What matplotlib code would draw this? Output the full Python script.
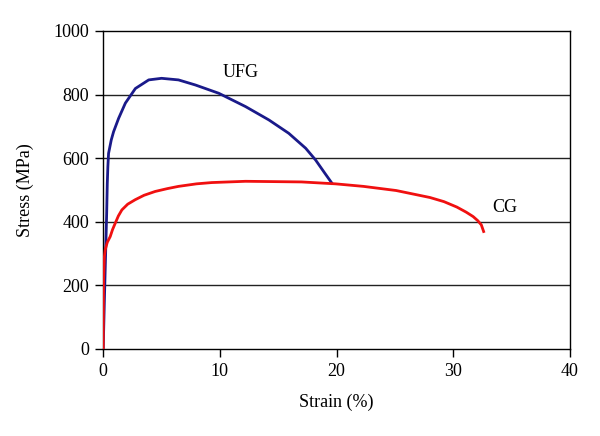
import numpy as np
import matplotlib.pyplot as plt

# Stress-strain data (strain in %, stress in MPa)
ufg_strain = [0, 0.1, 0.2, 0.3, 0.35, 0.4, 0.46, 0.69, 0.89, 1.32, 1.9, 2.76,
              3.9, 5.0, 6.45, 7.9, 9.9, 12.2, 14.2, 15.9, 17.35, 18.2, 19.0, 19.6]
ufg_stress = [0, 150, 290, 430, 520, 573, 615, 657, 683, 725, 773, 819,
              846, 851, 846, 830, 804, 762, 720, 678, 631, 594, 552, 521]

cg_strain = [0, 0.03, 0.1, 0.17, 0.35, 0.6, 0.8, 1.03, 1.3, 1.6, 2.1, 2.74,
             3.5, 4.45, 5.5, 6.45, 8.0, 9.3, 12.2, 17.0, 19.9, 22.3, 25.1,
             28.0, 29.2, 30.3, 31.1, 31.7, 32.1, 32.4, 32.6]
cg_stress = [0, 217, 290, 311, 335, 353, 375, 395, 418, 437, 455, 469,
             483, 495, 504, 511, 519, 523, 527, 525, 519, 511, 498,
             476, 463, 446, 430, 416, 403, 390, 369]

plt.rcParams['font.family'] = ['Liberation Serif', 'DejaVu Serif']

fig = plt.figure(figsize=(6, 4.36), dpi=100)
ax = fig.add_axes([0.172, 0.2, 0.778, 0.729])

# horizontal grid lines
for yv in [200, 400, 600, 800]:
    ax.axhline(yv, color='#222222', lw=1, zorder=1)

ax.plot(ufg_strain, ufg_stress, color='#1a1a8a', lw=2, zorder=3)
ax.plot(cg_strain, cg_stress, color='#f01010', lw=2, zorder=3)

ax.text(11.8, 868, 'UFG', fontsize=13, ha='center', va='center')
ax.text(34.4, 443, 'CG', fontsize=13, ha='center', va='center')

ax.set_xlim(0, 40)
ax.set_ylim(0, 1000)
ax.set_xticks([0, 10, 20, 30, 40])
ax.set_yticks([0, 200, 400, 600, 800, 1000])
ax.tick_params(direction='out', length=6, width=1, labelsize=13, pad=4,
               color='black')
ax.set_xlabel('Strain (%)', fontsize=13, labelpad=10)
ax.set_ylabel('Stress (MPa)', fontsize=13, labelpad=14)
for s in ax.spines.values():
    s.set_color('black')
    s.set_linewidth(1)

fig.savefig('out.png', dpi=100)
